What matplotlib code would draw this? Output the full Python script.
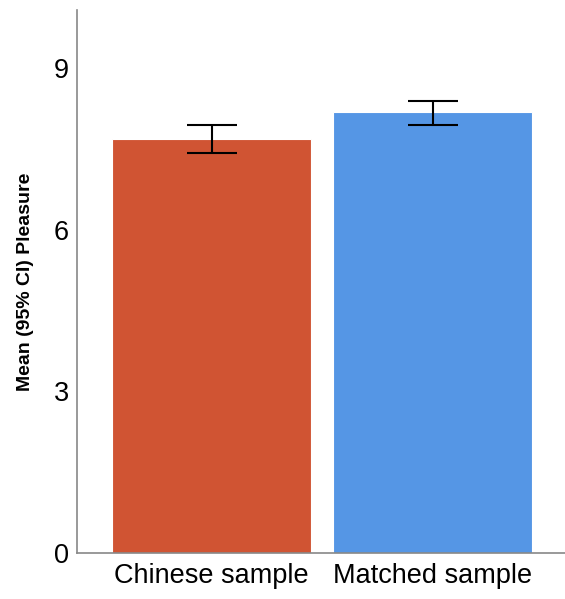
import matplotlib.pyplot as plt

plt.rcParams["font.family"] = ["Liberation Sans", "DejaVu Sans"]

# values
groups = ["Chinese sample", "Matched sample"]
means = [7.68, 8.18]
ci_low = [7.42, 7.94]
ci_high = [7.94, 8.40]
colors = ["#D05433", "#5596E5"]

yerr = [[m - lo for m, lo in zip(means, ci_low)],
        [hi - m for m, hi in zip(means, ci_high)]]

fig = plt.figure(figsize=(5.65, 5.99), dpi=100)
ax = fig.add_axes([77 / 565, 1 - 553 / 599, 1 - 77 / 565, (553 - 10) / 599])

x = range(len(groups))
ax.bar(x, means, width=0.9, color=colors, edgecolor="white", linewidth=0.8)
ax.errorbar(x, means, yerr=yerr, fmt="none", ecolor="black",
            elinewidth=1.5, capsize=18, capthick=1.5)

ax.set_xlim(-0.61, 1.6)
ax.set_ylim(0, 10.08)
ax.set_yticks([0, 3, 6, 9])
ax.set_xticks(list(x))
ax.set_xticklabels(groups)
ax.tick_params(axis="both", length=0, labelsize=19.5)
ax.tick_params(axis="y", pad=6)
ax.tick_params(axis="x", pad=7)
ax.set_ylabel("Mean (95% CI) Pleasure", fontsize=14, fontweight="bold", labelpad=14)

for side in ["top", "right"]:
    ax.spines[side].set_visible(False)
for side in ["left", "bottom"]:
    ax.spines[side].set_color("#888888")
    ax.spines[side].set_linewidth(1.2)

plt.savefig("out.png", dpi=100)
